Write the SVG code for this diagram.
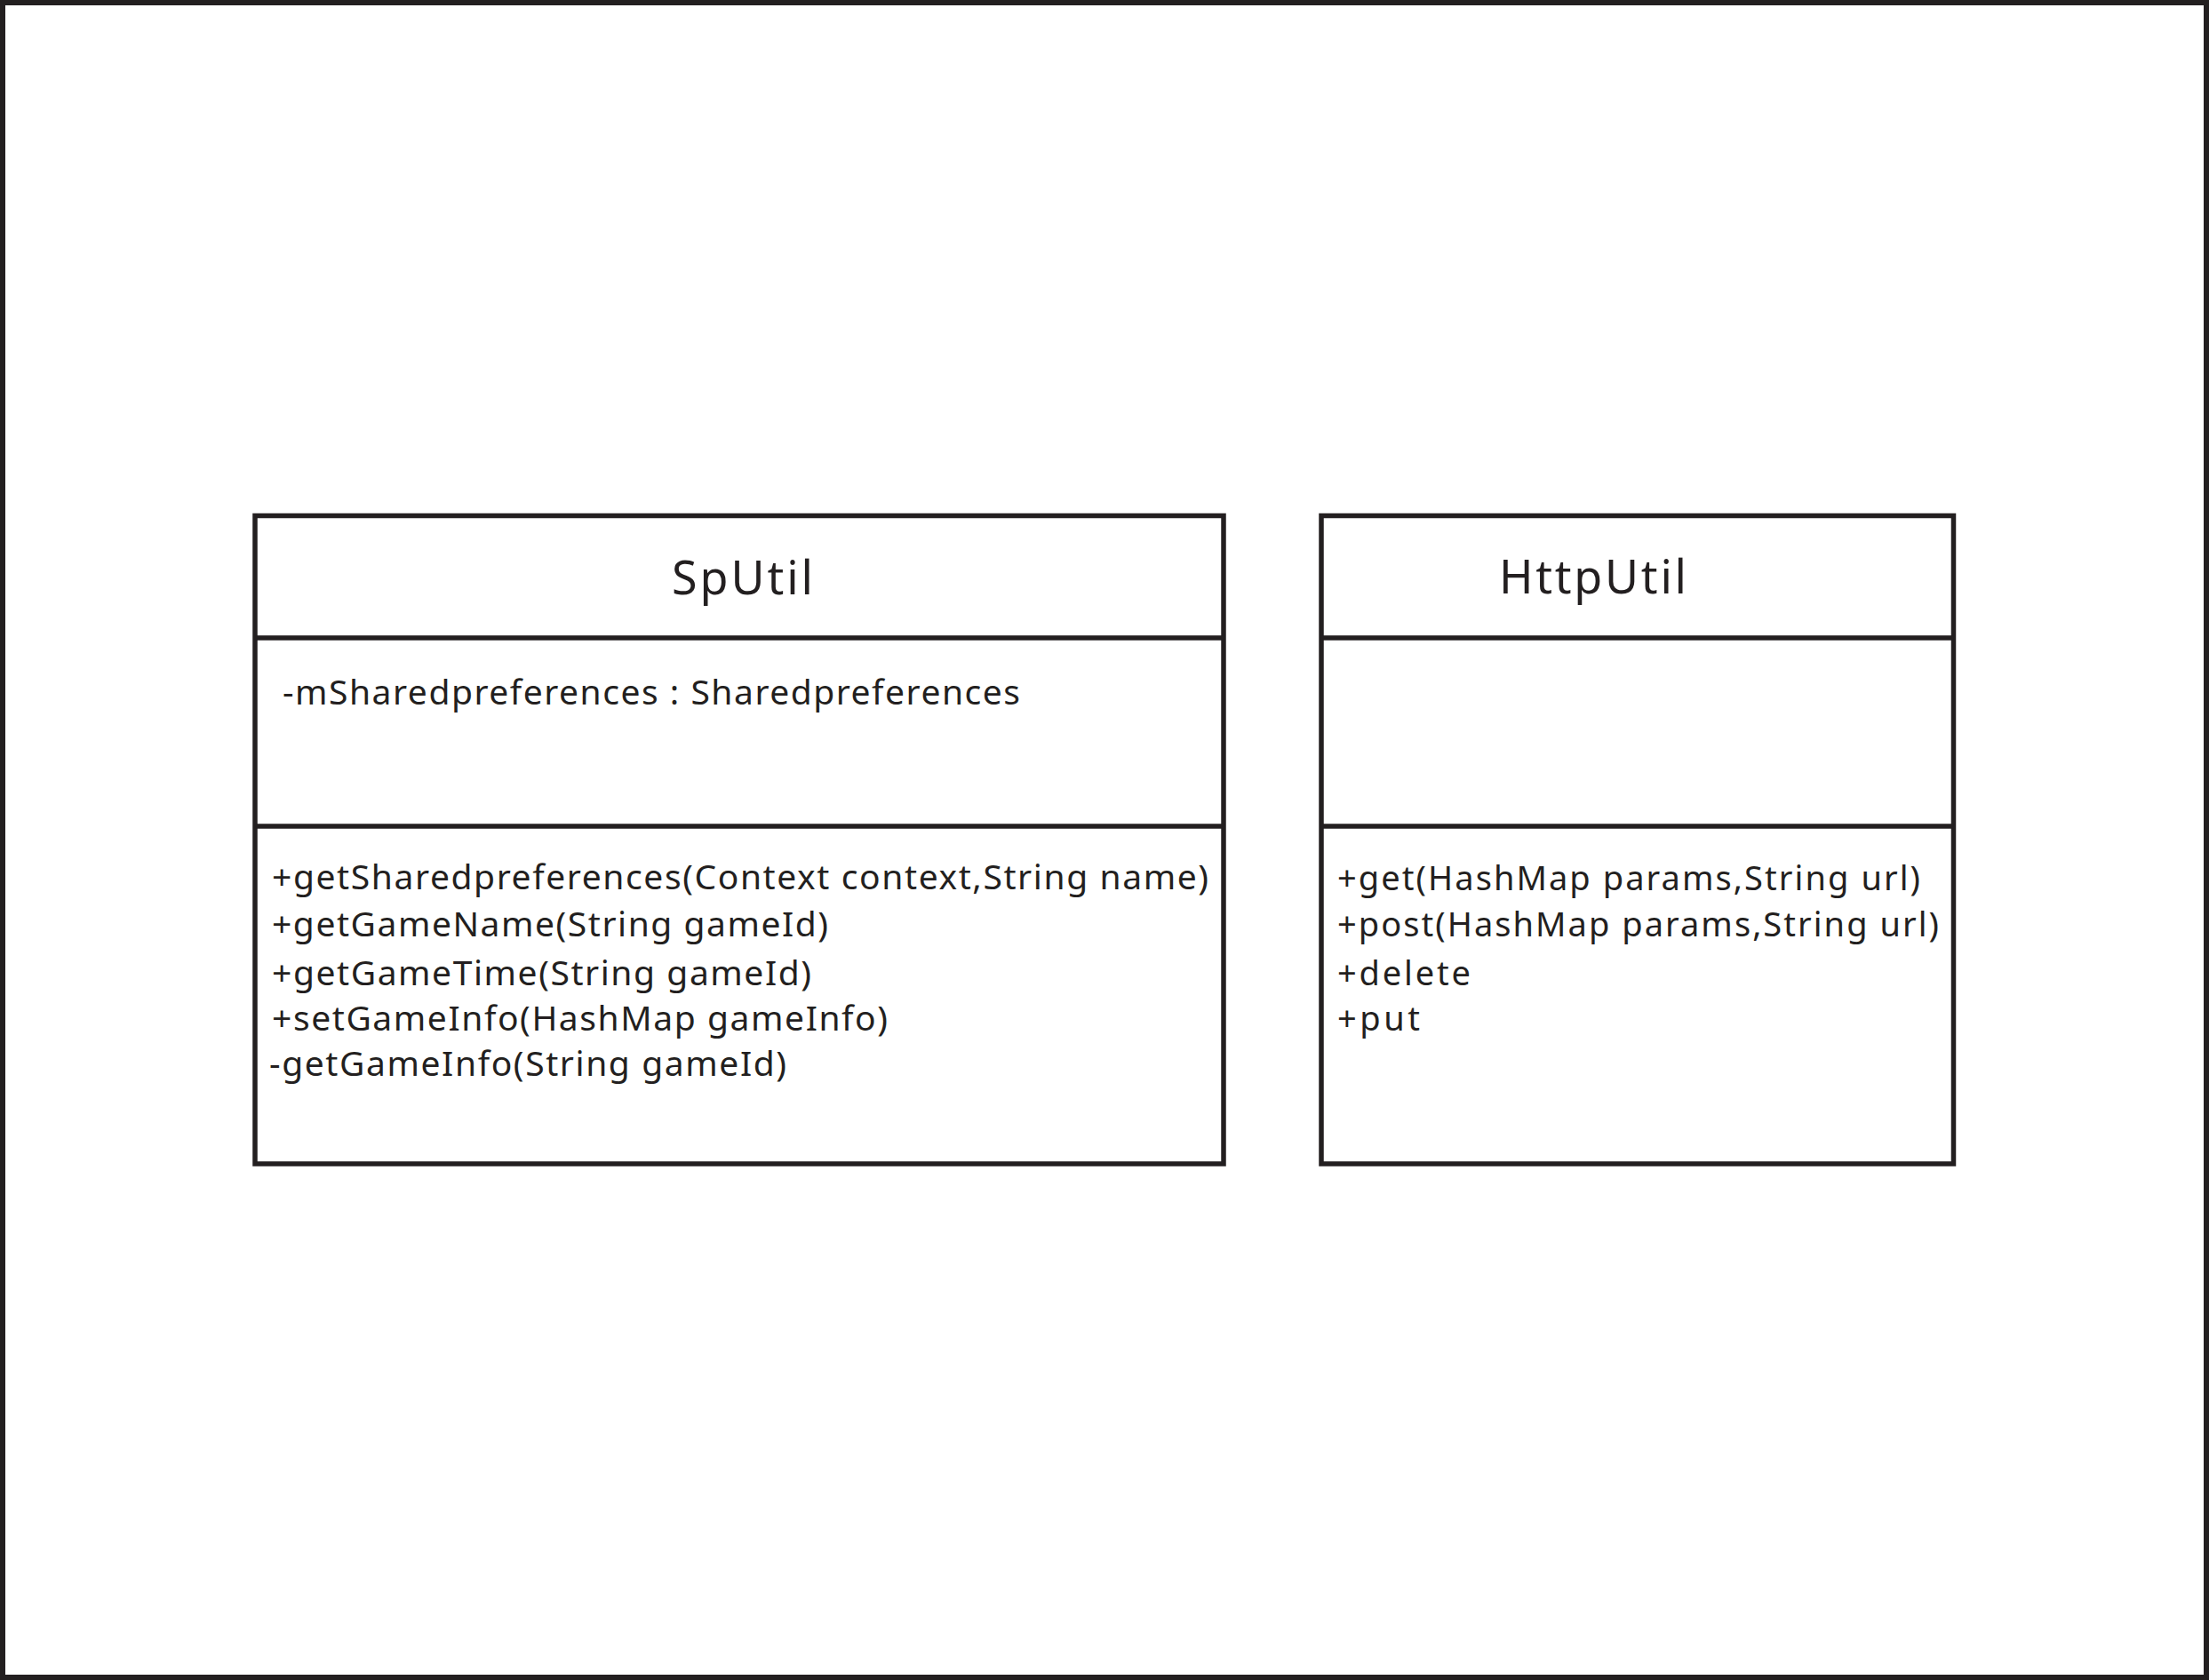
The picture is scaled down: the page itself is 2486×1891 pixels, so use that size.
<svg xmlns="http://www.w3.org/2000/svg" width="2486" height="1891" viewBox="0 0 2486 1891">
  <style>
    .frame { fill: #ffffff; stroke: #231f20; stroke-width: 6; }
    .box { fill: #ffffff; stroke: #231f20; stroke-width: 5.5; }
    .div { stroke: #231f20; stroke-width: 5.5; fill: none; }
    text { font-family: "Noto Sans", "Open Sans", "DejaVu Sans", sans-serif; fill: #231f20; }
    .title { font-size: 52px; }
    .attr { font-size: 39px; }
    .sp { font-size: 39px; }
    .http { font-size: 38px; }
  </style>
  <rect class="frame" x="3" y="3" width="2480" height="1885"/>
  <g id="SpUtil">
    <rect class="box" x="287" y="580.5" width="1090" height="729.5"/>
    <line class="div" x1="287" y1="718" x2="1377" y2="718"/>
    <line class="div" x1="287" y1="930" x2="1377" y2="930"/>
    <text class="title" x="756" y="669" textLength="159" lengthAdjust="spacing">SpUtil</text>
    <text class="attr" x="318" y="793" textLength="830" lengthAdjust="spacing">-mSharedpreferences : Sharedpreferences</text>
    <text class="sp" x="306" y="1001" textLength="1054" lengthAdjust="spacing">+getSharedpreferences(Context context,String name)</text>
    <text class="sp" x="306" y="1054" textLength="626" lengthAdjust="spacing">+getGameName(String gameId)</text>
    <text class="sp" x="306" y="1109" textLength="607" lengthAdjust="spacing">+getGameTime(String gameId)</text>
    <text class="sp" x="306" y="1160" textLength="693" lengthAdjust="spacing">+setGameInfo(HashMap gameInfo)</text>
    <text class="sp" x="303" y="1211" textLength="582" lengthAdjust="spacing">-getGameInfo(String gameId)</text>
  </g>
  <g id="HttpUtil">
    <rect class="box" x="1487" y="580.5" width="711.5" height="729.5"/>
    <line class="div" x1="1487" y1="718" x2="2198.5" y2="718"/>
    <line class="div" x1="1487" y1="930" x2="2198.5" y2="930"/>
    <text class="title" x="1687" y="668" textLength="211" lengthAdjust="spacing">HttpUtil</text>
    <text class="http" x="1505" y="1002" textLength="656" lengthAdjust="spacing">+get(HashMap params,String url)</text>
    <text class="http" x="1505" y="1054" textLength="677" lengthAdjust="spacing">+post(HashMap params,String url)</text>
    <text class="http" x="1505" y="1109" textLength="150" lengthAdjust="spacing">+delete</text>
    <text class="http" x="1505" y="1160" textLength="93" lengthAdjust="spacing">+put</text>
  </g>
  <g id="connectors"/>
</svg>
